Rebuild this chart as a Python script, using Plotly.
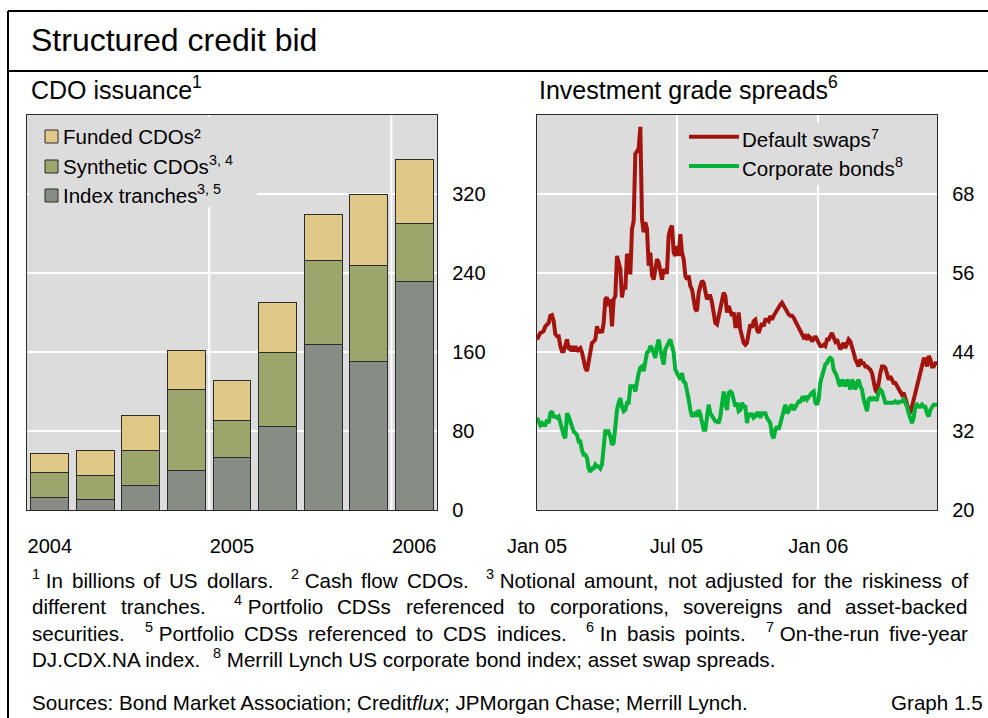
import re
import pandas as pd
import plotly.graph_objects as go

# ---------------------------------------------------------------- data
quarters = ["2004 Q1", "2004 Q2", "2004 Q3", "2004 Q4",
            "2005 Q1", "2005 Q2", "2005 Q3", "2005 Q4", "2006 Q1"]
year_ticks = ["2004 Q1", "2005 Q1", "2006 Q1"]
year_labels = ["2004", "2005", "2006"]

# CDO issuance, billions of US dollars
index_tranches = [12.5, 11, 25, 40, 53, 85, 168, 150, 231]
synthetic_cdos = [25.5, 23.5, 35, 82, 38, 74, 85, 98, 59]
funded_cdos = [19, 26, 36, 40, 40, 51, 46, 72, 65]

# Investment grade spreads, basis points (sampled every ~2 days)
spread_start, spread_end = "2005-01-01", "2006-06-04"
default_swaps = [
    45.9, 46.4, 46.9, 47.0, 47.2, 47.9, 48.1, 48.4, 49.5, 49.6,
    48.7, 46.7, 46.4, 46.4, 44.9, 44.1, 44.1, 44.9, 45.9, 44.6,
    44.4, 44.9, 44.1, 44.9, 44.1, 44.4, 44.6, 43.9, 42.3, 41.6,
    41.1, 42.6, 43.4, 45.4, 45.6, 45.9, 47.9, 46.9, 47.4, 46.9,
    48.4, 52.0, 52.3, 51.0, 52.0, 47.9, 52.0, 52.5, 58.6, 57.6,
    56.6, 52.3, 54.0, 53.5, 58.9, 58.1, 55.8, 62.7, 63.9, 74.1,
    74.6, 74.9, 78.2, 64.2, 62.2, 63.7, 62.7, 57.1, 59.1, 55.6,
    55.0, 57.1, 58.1, 57.6, 56.1, 55.0, 56.6, 56.1, 56.1, 61.7,
    62.7, 63.2, 59.1, 58.6, 60.1, 58.6, 61.9, 59.1, 58.1, 55.6,
    55.0, 55.6, 54.0, 53.5, 52.0, 50.5, 50.2, 53.0, 54.0, 54.8,
    54.5, 53.0, 52.0, 52.5, 52.5, 51.5, 50.0, 48.4, 48.2, 49.5,
    50.0, 51.5, 53.0, 52.5, 50.0, 51.0, 50.0, 49.5, 50.0, 47.9,
    47.9, 50.0, 47.4, 46.4, 45.4, 45.1, 45.4, 46.9, 48.2, 47.7,
    48.7, 48.9, 47.4, 46.9, 47.7, 48.4, 47.9, 48.9, 48.9, 48.7,
    49.5, 48.9, 49.5, 50.0, 50.2, 50.7, 51.2, 51.5, 51.0, 50.5,
    50.2, 49.7, 49.5, 49.5, 49.2, 48.7, 48.2, 47.7, 46.9, 46.4,
    46.2, 46.4, 45.9, 46.4, 46.2, 45.6, 45.9, 46.4, 45.9, 45.4,
    44.9, 44.9, 45.1, 44.9, 45.9, 45.9, 46.4, 46.9, 46.2, 45.6,
    45.9, 44.9, 44.4, 44.9, 45.4, 44.6, 45.4, 45.9, 45.6, 44.4,
    43.9, 42.9, 42.3, 41.8, 42.9, 42.3, 42.3, 41.8, 41.8, 41.6,
    41.3, 40.8, 39.3, 38.3, 37.8, 39.8, 40.8, 41.8, 41.8, 41.6,
    40.8, 39.8, 40.3, 39.8, 39.3, 39.3, 38.8, 38.3, 37.8, 37.5,
    37.8, 36.8, 35.7, 35.2, 34.7, 35.7, 36.8, 37.8, 38.8, 39.8,
    40.8, 41.8, 42.9, 42.9, 41.8, 43.4, 42.9, 41.8, 41.8, 42.3, 42.3,
]
corporate_bonds = [
    34.0, 33.2, 32.9, 33.2, 32.9, 32.9, 33.7, 33.2, 34.7, 35.0,
    34.2, 34.2, 34.0, 34.2, 33.2, 32.7, 31.4, 30.9, 34.7, 34.2,
    33.5, 32.7, 31.9, 31.7, 31.4, 30.4, 30.4, 29.1, 28.4, 28.4,
    27.9, 26.3, 25.8, 26.3, 26.3, 26.9, 26.6, 26.6, 26.3, 26.9,
    30.7, 32.2, 31.7, 31.9, 31.2, 29.9, 30.2, 33.7, 35.2, 36.3,
    37.0, 35.7, 35.0, 35.2, 36.3, 36.3, 38.8, 38.8, 38.8, 38.0,
    39.8, 40.8, 41.6, 41.8, 41.1, 42.3, 43.9, 44.1, 44.9, 44.6,
    43.9, 43.1, 44.9, 45.9, 44.4, 43.4, 42.1, 44.4, 44.9, 45.4,
    45.9, 44.9, 43.9, 41.3, 40.8, 40.3, 39.8, 40.8, 39.5, 39.3,
    38.3, 36.8, 35.2, 34.2, 34.5, 34.7, 34.2, 35.2, 34.5, 33.2,
    32.2, 32.2, 34.7, 36.0, 34.7, 34.2, 33.7, 33.5, 33.5, 33.2,
    34.2, 35.7, 38.0, 36.3, 35.2, 37.8, 38.0, 37.8, 36.3, 35.7,
    36.3, 35.0, 35.2, 36.3, 35.7, 35.7, 33.2, 34.7, 34.2, 34.7,
    34.0, 34.2, 34.7, 34.7, 34.0, 34.7, 34.7, 34.7, 34.0, 33.5,
    33.2, 31.4, 30.9, 32.2, 32.7, 32.2, 33.2, 34.0, 34.7, 36.0,
    34.7, 35.0, 35.7, 36.0, 35.2, 35.7, 36.3, 36.5, 36.5, 37.0,
    36.8, 37.3, 36.8, 37.3, 37.5, 37.8, 38.0, 36.3, 36.0, 36.8,
    39.3, 40.3, 41.3, 42.1, 42.3, 42.9, 43.1, 42.9, 41.3, 40.8,
    40.3, 39.3, 38.8, 39.8, 39.3, 38.8, 39.8, 39.3, 38.3, 39.8,
    39.3, 38.3, 39.3, 39.8, 38.8, 38.3, 36.8, 35.7, 35.0, 36.8,
    37.0, 36.8, 37.0, 36.8, 36.8, 37.8, 38.3, 38.0, 36.8, 36.3,
    36.3, 36.3, 36.3, 36.3, 36.3, 36.5, 36.3, 36.3, 36.5, 36.5,
    36.8, 36.3, 35.7, 34.7, 33.7, 33.2, 34.0, 35.7, 36.0, 35.7,
    35.7, 36.0, 35.7, 35.7, 34.7, 34.2, 35.2, 35.7, 36.0, 36.0, 36.0,
]
spread_dates = pd.date_range(spread_start, spread_end, periods=len(default_swaps))
date_ticks = ["2005-01-01", "2005-07-01", "2006-01-01"]
date_labels = ["Jan 05", "Jul 05", "Jan 06"]

# ---------------------------------------------------------------- styling
W, H = 988, 718
FONT = "Liberation Sans, Arial, sans-serif"
BG = "#DCDCDC"
EDGE = "#2b2b2b"
C_FUNDED, C_SYNTH, C_INDEX = "#E0C988", "#9CA66C", "#878D84"
C_CDS, C_BOND = "#A3140F", "#00B236"
TICK = 20
LEG = 20.5
NOTE = 20.6
SUP = 0.7       # superscript size relative to the running text
RAISE = 0.38    # superscript baseline lift, in em of the running text
DESC = 0.22     # descent below the baseline, in em


def fx(x):
    return x / W


def fy(y):
    return 1 - y / H


# Arial / Liberation Sans advance widths (1/1000 em)
WIDTHS = {" ": 278, "\u00a0": 278, ".": 278, ",": 278, ";": 278, ":": 278, "-": 333,
          "\u00b2": 333,
          "A": 667, "B": 667, "C": 722, "D": 722, "E": 667, "F": 611, "G": 778, "H": 722,
          "I": 278, "J": 500, "K": 667, "L": 556, "M": 833, "N": 722, "O": 778, "P": 667,
          "R": 722, "S": 667, "T": 611, "U": 722, "X": 667, "Y": 667,
          "a": 556, "b": 556, "c": 500, "d": 556, "e": 556, "f": 278, "g": 556, "h": 556,
          "i": 222, "j": 222, "k": 500, "l": 222, "m": 833, "n": 556, "o": 556, "p": 556,
          "q": 556, "r": 333, "s": 500, "t": 278, "u": 556, "v": 500, "w": 722, "x": 500,
          "y": 500, "z": 500}


def text_width(s, size):
    total, scale = 0.0, 1.0
    for tag, ch in re.findall(r"(</?\w+>)|(.)", s):
        if tag:
            scale = SUP if tag == "<sup>" else (1.0 if tag == "</sup>" else scale)
            continue
        total += WIDTHS.get(ch, 556) * scale
    return total * size / 1000


annotations = []


def place(x, baseline, text, size, anchor="left"):
    annotations.append(dict(
        x=fx(x), y=fy(baseline + DESC * size), xref="paper", yref="paper",
        xanchor=anchor, yanchor="bottom", text=text, showarrow=False,
        borderpad=0, borderwidth=0, font=dict(family=FONT, size=size, color="black")))


def label(x, baseline, text, size, anchor="left"):
    """Text with superscripts: each run is its own annotation, laid out left to right."""
    if anchor == "right":
        x -= text_width(text, size)
    for seg in re.split(r"(<sup>.*?</sup>)", text):
        if not seg:
            continue
        if seg.startswith("<sup>"):
            inner, s = seg[5:-6], size * SUP
            place(x, baseline - RAISE * size, inner, round(s, 2))
            x += text_width(inner, s)
        else:
            place(x, baseline, seg, size)
            x += text_width(seg, size)


def justified(line, baseline, size, left=32, right=968):
    parts = re.split(r"( +)", line)
    words, gaps = parts[0::2], parts[1::2]
    natural = sum(text_width(w, size) for w in words)
    n_spaces = sum(len(g) for g in gaps)
    space = (right - left - natural) / n_spaces
    x = left
    for i, w in enumerate(words):
        label(x, baseline, w, size)
        x += text_width(w, size)
        if i < len(gaps):
            x += len(gaps[i]) * space


# ---------------------------------------------------------------- traces
fig = go.Figure()
for name, vals, col in [("Index tranches", index_tranches, C_INDEX),
                        ("Synthetic CDOs", synthetic_cdos, C_SYNTH),
                        ("Funded CDOs", funded_cdos, C_FUNDED)]:
    fig.add_trace(go.Bar(x=quarters, y=vals, name=name, width=0.83,
                         marker=dict(color=col, line=dict(color=EDGE, width=1)),
                         xaxis="x", yaxis="y", showlegend=False))

fig.add_trace(go.Scatter(x=spread_dates, y=default_swaps, mode="lines", name="Default swaps",
                         line=dict(color=C_CDS, width=4), xaxis="x2", yaxis="y2",
                         showlegend=False))
fig.add_trace(go.Scatter(x=spread_dates, y=corporate_bonds, mode="lines", name="Corporate bonds",
                         line=dict(color=C_BOND, width=4), xaxis="x2", yaxis="y2",
                         showlegend=False))

# ---------------------------------------------------------------- axes
y_dom = [fy(510), fy(115)]
common = dict(showline=True, mirror=True, linecolor=EDGE, linewidth=1.3, ticks="",
              tickfont=dict(family=FONT, size=TICK, color="black"), zeroline=False,
              automargin=False)

fig.update_layout(
    width=W, height=H, margin=dict(l=0, r=0, t=0, b=0, pad=0, autoexpand=False),
    paper_bgcolor="white", plot_bgcolor=BG, barmode="stack", bargap=0.17,
    showlegend=False,
    xaxis=dict(domain=[fx(27), fx(437)], type="category", range=[-0.5, 8.5],
               tickmode="array", tickvals=year_ticks, ticktext=year_labels,
               showgrid=False, anchor="y", ticklabelstandoff=18, **common),
    yaxis=dict(domain=y_dom, range=[0, 400], tickvals=[0, 80, 160, 240, 320],
               side="right", anchor="x", showgrid=True, gridcolor="white", gridwidth=2,
               ticklabelstandoff=10, **common),
    xaxis2=dict(domain=[fx(537), fx(937)], type="date", range=[spread_start, spread_end],
                tickmode="array", tickvals=date_ticks, ticktext=date_labels,
                showgrid=True, gridcolor="white", gridwidth=2, anchor="y2",
                ticklabelstandoff=18, **common),
    yaxis2=dict(domain=y_dom, range=[20, 80], tickvals=[20, 32, 44, 56, 68],
                side="right", anchor="x2", showgrid=True, gridcolor="white", gridwidth=2,
                ticklabelstandoff=10, **common),
)

shapes = []
# year separators in the issuance panel
for xv in (3.5, 7.5):
    shapes.append(dict(type="line", xref="x", yref="y domain", x0=xv, x1=xv, y0=0, y1=1,
                       line=dict(color="white", width=2), layer="below"))

# legend backgrounds
shapes.append(dict(type="rect", xref="paper", yref="paper", x0=fx(29), x1=fx(257),
                   y0=fy(207), y1=fy(117), fillcolor=BG, line=dict(width=0), layer="above"))
shapes.append(dict(type="rect", xref="paper", yref="paper", x0=fx(684), x1=fx(935),
                   y0=fy(185), y1=fy(123), fillcolor=BG, line=dict(width=0), layer="above"))

# legend keys
bar_keys = [("Funded CDOs\u00b2", C_FUNDED, 136.5, 143),
            ("Synthetic CDOs<sup>3, 4</sup>", C_SYNTH, 166.5, 173),
            ("Index tranches<sup>3, 5</sup>", C_INDEX, 195.5, 202)]
for text, col, yc, base in bar_keys:
    shapes.append(dict(type="rect", xref="paper", yref="paper", x0=fx(45), x1=fx(58),
                       y0=fy(yc + 6.5), y1=fy(yc - 6.5), fillcolor=col,
                       line=dict(color=EDGE, width=1), layer="above"))
    label(63, base, text, LEG)

line_keys = [("Default swaps<sup>7</sup>", C_CDS, 136.7, 146.5),
             ("Corporate bonds<sup>8</sup>", C_BOND, 166.0, 175)]
for text, col, yc, base in line_keys:
    shapes.append(dict(type="line", xref="paper", yref="paper", x0=fx(689), x1=fx(739),
                       y0=fy(yc), y1=fy(yc), line=dict(color=col, width=4), layer="above"))
    label(742, base, text, LEG)

# frame
shapes += [
    dict(type="line", xref="paper", yref="paper", x0=fx(8), x1=1, y0=fy(11), y1=fy(11),
         line=dict(color="black", width=2)),
    dict(type="line", xref="paper", yref="paper", x0=fx(8), x1=1, y0=fy(71), y1=fy(71),
         line=dict(color="black", width=2)),
    dict(type="line", xref="paper", yref="paper", x0=fx(8), x1=fx(8), y0=0, y1=fy(11),
         line=dict(color="black", width=2)),
]

# titles
label(31, 51, "Structured credit bid", 32)
label(31, 98, "CDO issuance<sup>1</sup>", 25)
label(539, 98, "Investment grade spreads<sup>6</sup>", 25)

# footnotes
justified("<sup>1</sup>\u00a0In billions of US dollars.  <sup>2</sup>\u00a0Cash flow CDOs.  "
          "<sup>3</sup>\u00a0Notional amount, not adjusted for the riskiness of", 587, NOTE)
justified("different tranches.  <sup>4</sup>\u00a0Portfolio CDSs referenced to corporations, "
          "sovereigns and asset-backed", 613, NOTE)
justified("securities.  <sup>5</sup>\u00a0Portfolio CDSs referenced to CDS indices.  "
          "<sup>6</sup>\u00a0In basis points.  <sup>7</sup>\u00a0On-the-run five-year", 640, NOTE)
label(32, 666, "DJ.CDX.NA index.  <sup>8</sup>\u00a0Merrill Lynch US corporate bond index; "
      "asset swap spreads.", NOTE)
label(32, 709, "Sources: Bond Market Association; Credit<i>flux</i>; JPMorgan Chase; "
      "Merrill Lynch.", NOTE)
label(983, 709, "Graph 1.5", NOTE, anchor="right")

fig.update_layout(shapes=shapes, annotations=annotations)
fig.write_html("out.html")
